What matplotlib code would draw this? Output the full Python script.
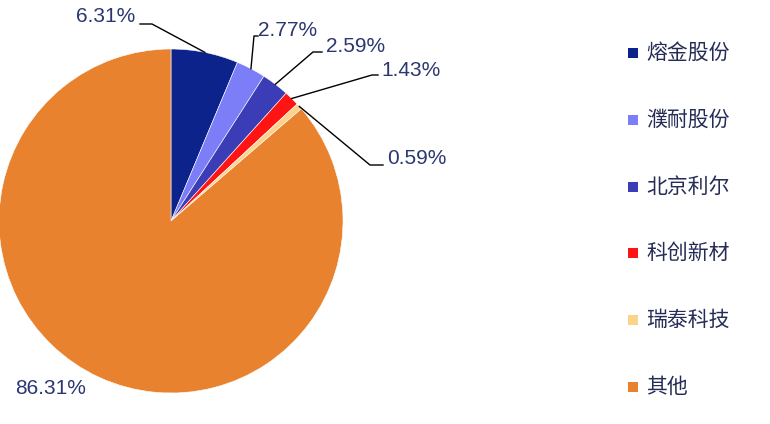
import numpy as np
import matplotlib.pyplot as plt
from matplotlib.patches import Rectangle

plt.rcParams['font.family'] = ['Liberation Sans', 'Noto Sans CJK SC', 'DejaVu Sans']

# data
names = ['熔金股份', '濮耐股份', '北京利尔', '科创新材', '瑞泰科技', '其他']
shares = [6.31, 2.77, 2.59, 1.43, 0.59, 86.31]
colors = ['#0c238c', '#7b7ef7', '#3a3db5', '#ff1414', '#fbd38a', '#e8822e']

W, H = 770, 424
cx, cy, R = 171, 221, 172   # pie centre / radius in pixels

fig = plt.figure(figsize=(W / 100, H / 100), dpi=100)
ax = fig.add_axes([(cx - R) / W, (H - cy - R) / H, 2 * R / W, 2 * R / H])

wedges, _ = ax.pie(shares, colors=colors, startangle=90, counterclock=False,
                   radius=1, wedgeprops=dict(edgecolor='white', linewidth=0.4))
ax.set_xlim(-1, 1)
ax.set_ylim(-1, 1)
ax.axis('off')


def px(x, y):
    # pixel position -> data coords of the pie axes
    return (x - cx) / R, (cy - y) / R


txt_col = '#2b3672'
# label layout: (elbow points in px, text anchor px, ha)
layout = [
    ([(152, 24), (140, 24)], (135, 16), 'right'),
    ([(254, 36), (258, 36)], (258, 31), 'left'),
    ([(313, 52), (322, 52)], (326, 47), 'left'),
    ([(372, 75), (378, 75)], (381, 70), 'left'),
    ([(370, 165), (383, 165)], (387, 159), 'left'),
]

cum = 0
for i, s in enumerate(shares):
    mid = np.deg2rad(90 - (cum + s / 2) * 3.6)
    cum += s
    if i >= len(layout):
        continue
    pts, tpos, ha = layout[i]
    xs = [np.cos(mid)] + [px(*p)[0] for p in pts]
    ys = [np.sin(mid)] + [px(*p)[1] for p in pts]
    ax.plot(xs, ys, color='black', lw=1.0, clip_on=False)
    tx, ty = px(*tpos)
    ax.text(tx, ty, f'{s:.2f}%', ha=ha, va='center', fontsize=15,
            color=txt_col, clip_on=False)

tx, ty = px(15, 389)
ax.text(tx, ty, f'{shares[-1]:.2f}%', ha='left', va='center', fontsize=15,
        color=txt_col, clip_on=False)

# legend
for i, (n, c) in enumerate(zip(names, colors)):
    y = 53 + i * 66.8
    fig.patches.append(Rectangle((628 / W, (H - y - 5) / H), 10 / W, 10 / H,
                                 transform=fig.transFigure, facecolor=c,
                                 edgecolor='none'))
    fig.text(646 / W, (H - y) / H, n, ha='left', va='center', fontsize=15,
             color='#252c55', family=['Noto Sans CJK SC', 'DejaVu Sans'])

fig.savefig('out.png', dpi=100)
